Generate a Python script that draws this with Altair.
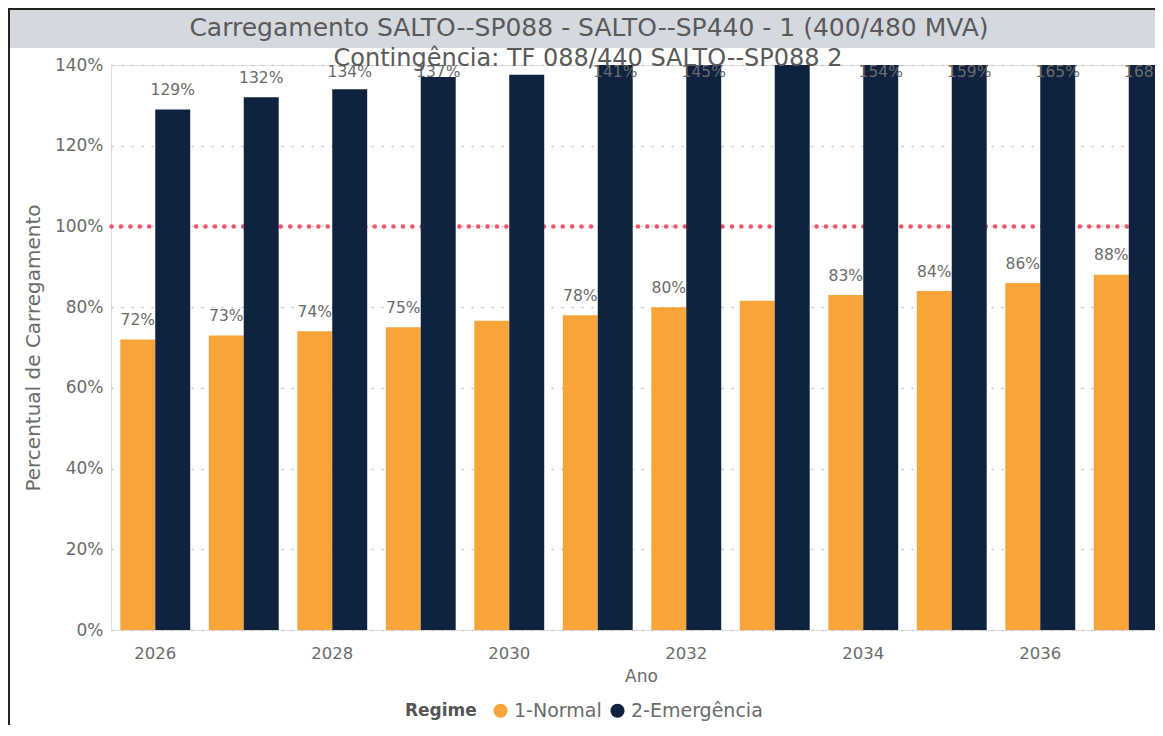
import altair as alt
import pandas as pd

years = [str(y) for y in range(2026, 2038)]
normal = [72, 73, 74, 75, 76.6, 78, 80, 81.6, 83, 84, 86, 88]
emergency = [129, 132, 134, 137, 137.6, 141, 145, 149.5, 154, 159, 165, 168]
normal_labels = ["72%", "73%", "74%", "75%", "", "78%", "80%", "", "83%", "84%", "86%", "88%"]
emergency_labels = ["129%", "132%", "134%", "137%", "", "141%", "145%", "", "154%", "159%", "165%", "168%"]
regimes = ["1-Normal", "2-Emergência"]
colors = ["#F7A53B", "#0F2240"]
tick_years = ["2026", "2028", "2030", "2032", "2034", "2036"]
title_text = "Carregamento SALTO--SP088 - SALTO--SP440 - 1  (400/480 MVA)"
subtitle_text = "Contingência: TF 088/440 SALTO--SP088 2"

FONT = "DejaVu Sans, sans-serif"
GRAY = "#6b6b6b"

rows = []
for i, y in enumerate(years):
    rows.append({"Ano": y, "Regime": regimes[0], "v": normal[i], "lab": normal_labels[i]})
    rows.append({"Ano": y, "Regime": regimes[1], "v": emergency[i], "lab": emergency_labels[i]})
df = pd.DataFrame(rows)

W, H = 1044, 565

x_enc = alt.X("Ano:N", title="Ano", sort=years,
              scale=alt.Scale(range=[0, 1062], paddingInner=0.21, paddingOuter=0.105),
              axis=alt.Axis(values=tick_years, labelAngle=0, ticks=False, domain=False,
                            labelFontSize=16.5, labelColor=GRAY, labelFont=FONT, labelPadding=15,
                            titleFontSize=17, titleColor=GRAY, titleFont=FONT, titleFontWeight="normal",
                            titlePadding=7, titleX=530))
xoff = alt.XOffset("Regime:N", sort=regimes, scale=alt.Scale(paddingInner=0, paddingOuter=0))
y_scale = alt.Scale(domain=[0, 140], nice=False)

base = alt.Chart(df)

bars = base.mark_bar(clip=True).encode(
    x=x_enc,
    xOffset=xoff,
    y=alt.Y("v:Q", scale=y_scale, title="Percentual de Carregamento",
            axis=alt.Axis(values=[0, 20, 40, 60, 80, 100, 120, 140], labelExpr="datum.value + '%'",
                          ticks=False, domain=False, grid=True, gridDash=[2, 8], gridColor="#c4c4c4",
                          gridWidth=1.5, labelFontSize=17, labelColor=GRAY, labelFont=FONT,
                          labelPadding=8, titleFontSize=20, titleColor=GRAY, titleFont=FONT,
                          titleFontWeight="normal", titlePadding=11)),
    color=alt.Color("Regime:N", sort=regimes, scale=alt.Scale(domain=regimes, range=colors),
                    legend=alt.Legend(title="Regime", orient="none", legendX=294, legendY=636,
                                      direction="horizontal", titleOrient="left",
                                      symbolType="circle", symbolSize=200, labelFontSize=19,
                                      labelColor=GRAY, labelFont=FONT, titleFontSize=17,
                                      titleColor="#555", titleFont=FONT, titleFontWeight="bold",
                                      columnPadding=6, symbolOffset=0, labelOffset=4,
                                      titlePadding=14, titleBaseline="middle", titleAnchor="middle")),
)

labels = base.transform_calculate(
    ly="min(datum.v + 4.8, 138.3)"
).mark_text(font=FONT, fontSize=15.5, color=GRAY, baseline="middle", clip=True).encode(
    x=alt.X("Ano:N", sort=years),
    xOffset=alt.XOffset("Regime:N", sort=regimes),
    y=alt.Y("ly:Q", scale=y_scale),
    text="lab:N",
)

ref = alt.Chart(pd.DataFrame({"r": [100]})).mark_rule(
    color="#F0566A", strokeWidth=4.5, strokeDash=[0.1, 9.3], strokeCap="round"
).encode(y=alt.Y("r:Q", scale=y_scale))

one = pd.DataFrame({"t": [title_text], "s": [subtitle_text]})
band = alt.Chart(one).mark_rect(color="#D4D9DF").encode(
    x=alt.value(-102), x2=alt.value(W + 10), y=alt.value(-55), y2=alt.value(-17))
border_l = alt.Chart(one).mark_rule(color="#222", strokeWidth=2).encode(
    x=alt.value(-102), y=alt.value(-57), y2=alt.value(H + 100))
border_t = alt.Chart(one).mark_rule(color="#222", strokeWidth=2).encode(
    x=alt.value(-103), x2=alt.value(W + 10), y=alt.value(-56))
t_main = alt.Chart(one).mark_text(font=FONT, fontSize=25, color="#5a5a5a", baseline="middle").encode(
    x=alt.value(478), y=alt.value(-37), text="t:N")
t_sub = alt.Chart(one).mark_text(font=FONT, fontSize=24, color="#5a5a5a", baseline="middle").encode(
    x=alt.value(477), y=alt.value(-6), text="s:N")

chart = alt.layer(band, border_l, border_t, ref, bars, labels, t_main, t_sub).properties(
    width=W, height=H,
    autosize=alt.AutoSizeParams(type="none"),
    padding={"left": 103, "top": 57, "right": 0, "bottom": 95},
).configure_view(stroke=None).configure(background="white")

chart.save("out.html", embed_options={"renderer": "svg", "actions": False})
